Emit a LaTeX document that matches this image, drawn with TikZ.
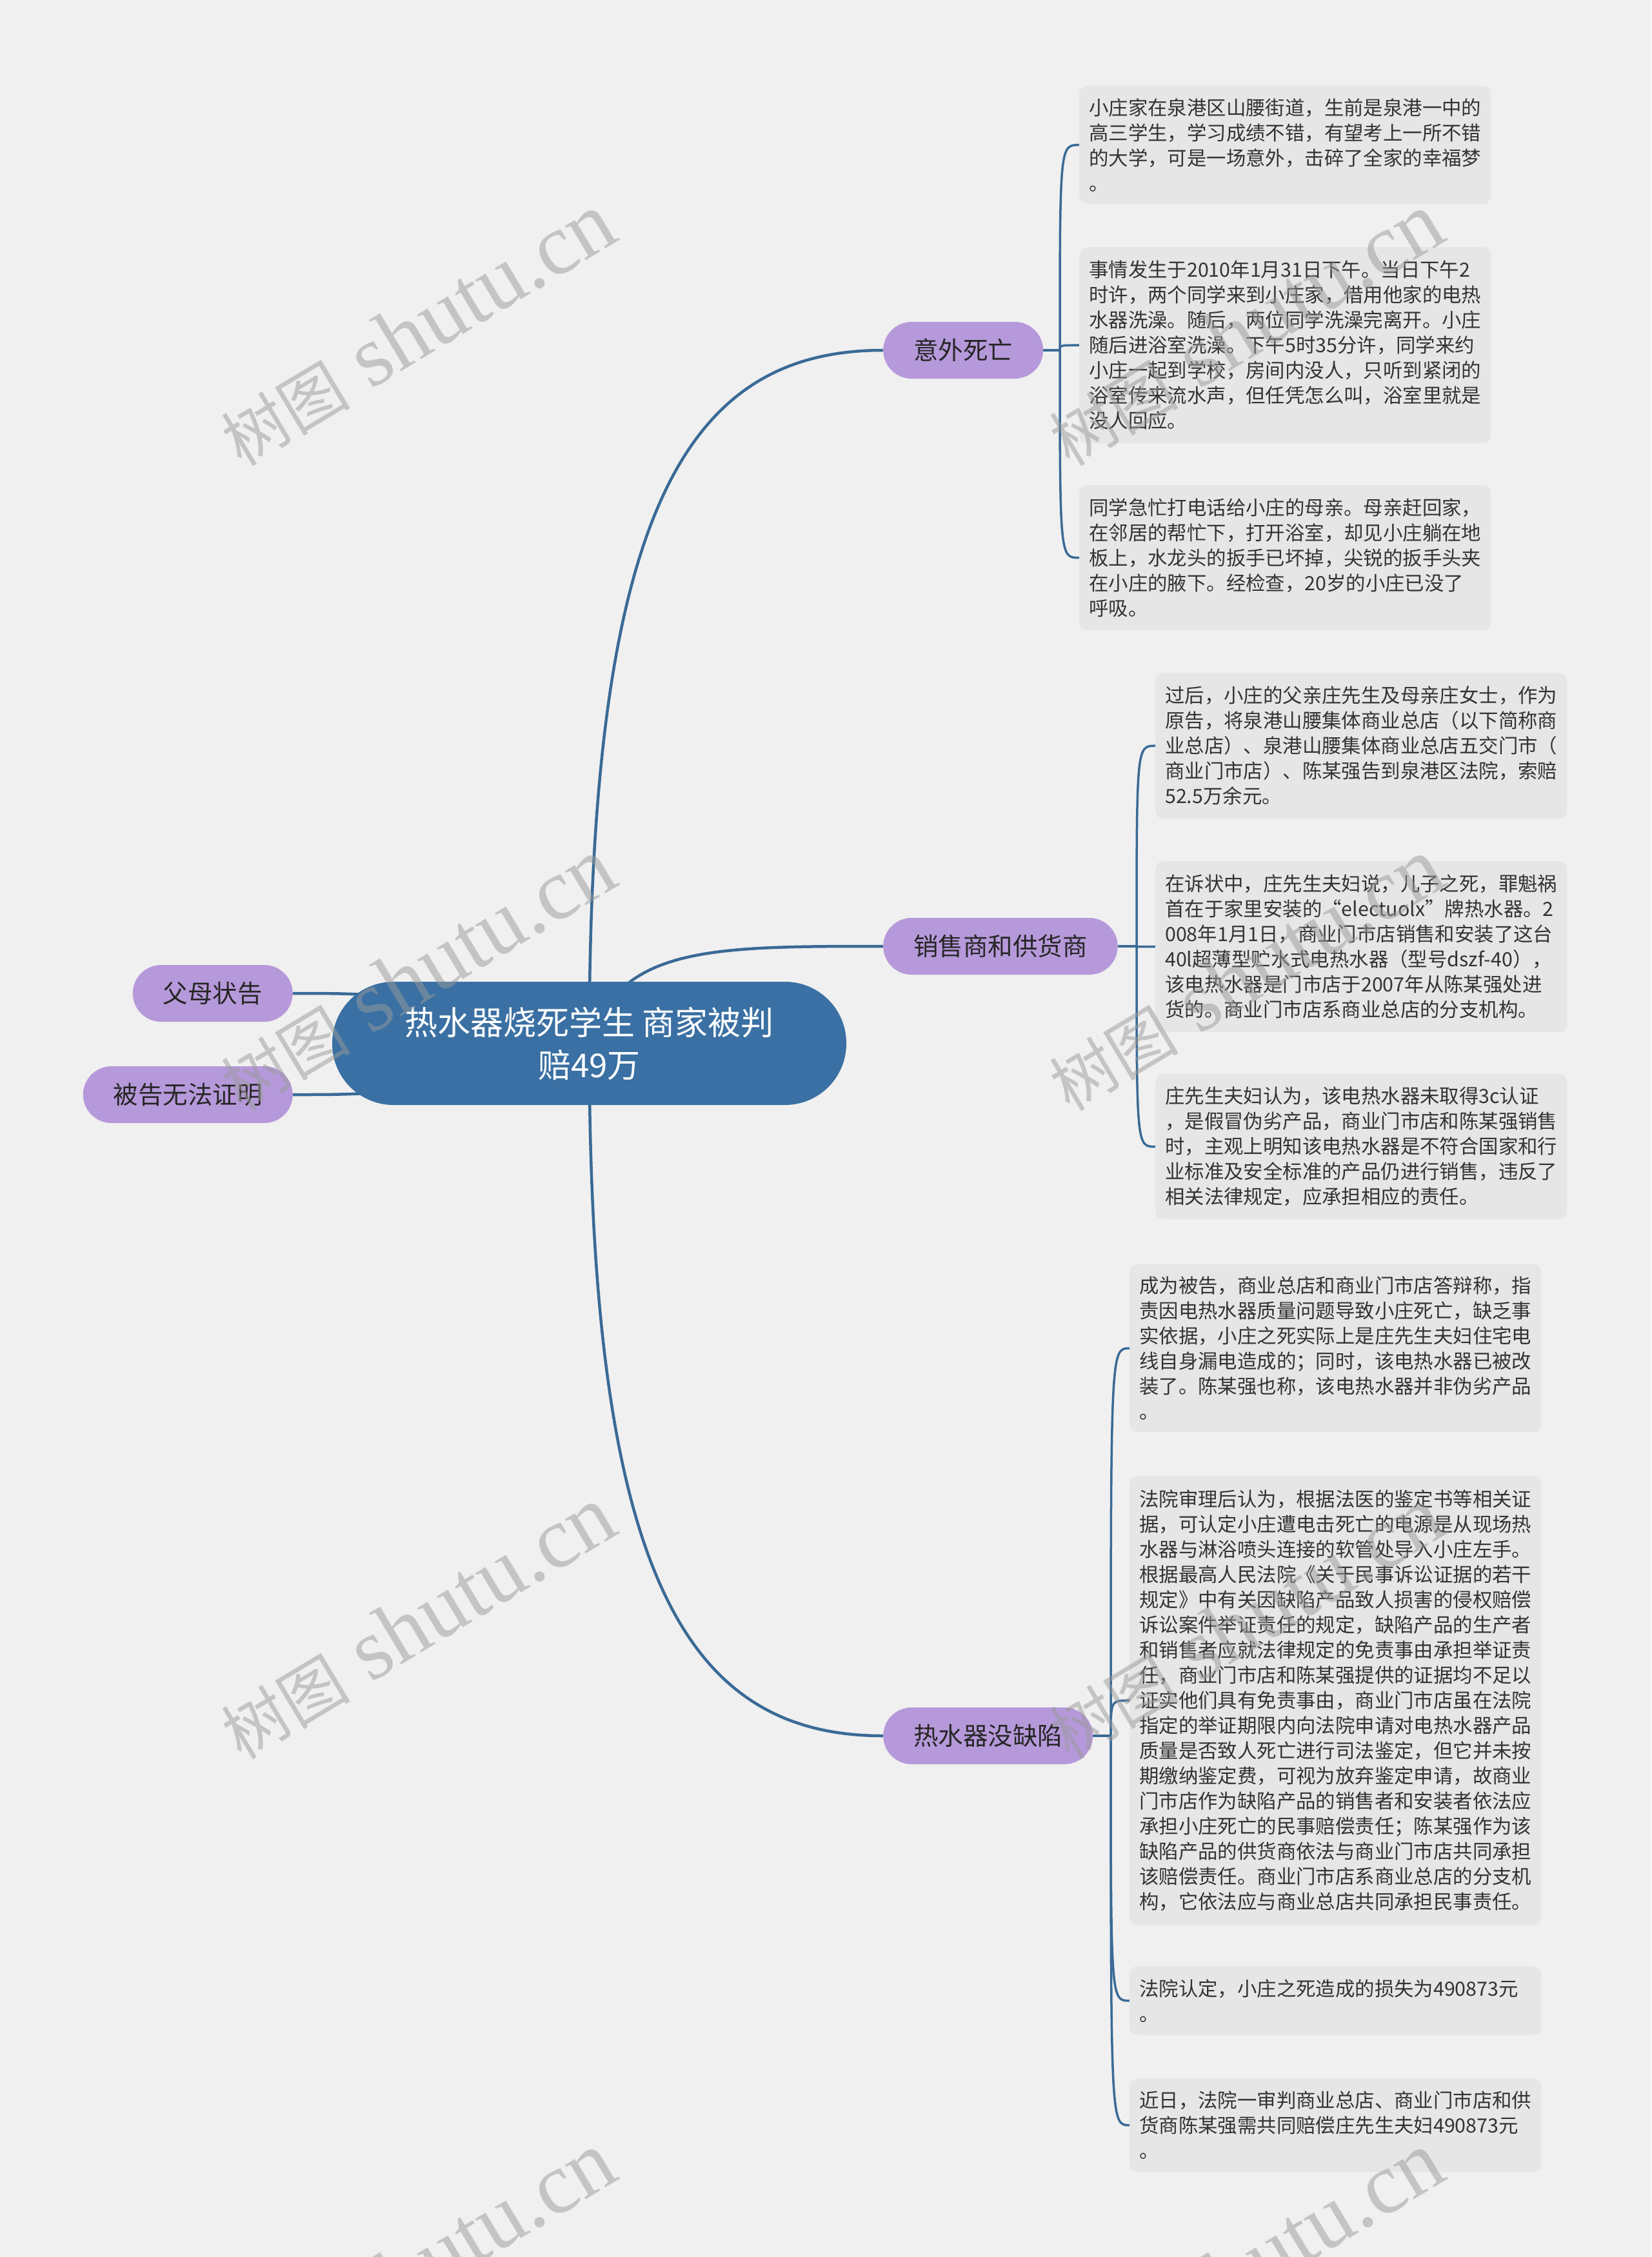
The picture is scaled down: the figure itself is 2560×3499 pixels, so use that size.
\documentclass[tikz,border=0pt]{standalone}
\usepackage{fontspec}
\setmainfont{Noto Sans CJK SC}
\newfontfamily\wmlatin{Liberation Serif}
\usetikzlibrary{backgrounds}
\pgfdeclarelayer{foreground}
\pgfsetlayers{background,main,foreground}
\definecolor{bgc}{HTML}{F0F0F0}
\definecolor{leaffill}{HTML}{E6E6E6}
\definecolor{centralfill}{HTML}{3A70A3}
\definecolor{branchfill}{HTML}{B699DA}
\definecolor{linkc}{HTML}{3A6A96}
\definecolor{leaftext}{HTML}{333333}
\definecolor{wmc}{HTML}{9A9A9A}
\newcommand{\wmtext}{{\fontsize{100}{110}\selectfont 树图}{\wmlatin\fontsize{135}{140}\selectfont\ shutu.cn}}
\tikzset{
  central/.style={fill=centralfill, draw=none, rounded corners=95pt, minimum width=797pt, minimum height=191pt, align=center, text=white, font=\fontsize{51}{66}\selectfont},
  branch/.style={fill=branchfill, draw=none, rounded corners=44pt, minimum height=88pt, inner xsep=47pt, inner ysep=0pt, text=black!85, font=\fontsize{38.5}{46}\selectfont},
  leaf/.style={fill=leaffill, draw=none, rounded corners=12pt, text width=608pt, inner xsep=15pt, inner ysep=0pt, align=left, anchor=north west, text=leaftext, font=\fontsize{30.4}{39}\selectfont},
  mainlink/.style={draw=linkc, line width=4.5pt},
  sublink/.style={draw=linkc, line width=3.5pt},
  wm/.style={text=wmc, opacity=0.5, rotate=31}
}
\begin{document}
\begin{tikzpicture}[x=1pt,y=-1pt]
\useasboundingbox (0,0) rectangle (2560,3499);
\begin{pgfonlayer}{background}
\fill[bgc] (0,0) rectangle (2560,3499);
\end{pgfonlayer}

% central and branches
\node[central] (c) at (913.5,1617.5) {热水器烧死学生 商家被判\\赔49万};
\node[branch, anchor=west] (b1) at (1369,543) {意外死亡};
\node[branch, anchor=west] (b2) at (1369,1467) {销售商和供货商};
\node[branch, anchor=west] (b3) at (1369,2691) {热水器没缺陷};
\node[branch, anchor=east] (l1) at (454,1540) {父母状告};
\node[branch, anchor=east] (l2) at (454,1697) {被告无法证明};

% leaves of branch 1
\node[leaf, minimum height=183pt] (a1) at (1673,133) {小庄家在泉港区山腰街道，生前是泉港一中的\\高三学生，学习成绩不错，有望考上一所不错\\的大学，可是一场意外，击碎了全家的幸福梦\\。};
\node[leaf, minimum height=304pt] (a2) at (1673,383) {事情发生于2010年1月31日下午。当日下午2\\时许，两个同学来到小庄家，借用他家的电热\\水器洗澡。随后，两位同学洗澡完离开。小庄\\随后进浴室洗澡。下午5时35分许，同学来约\\小庄一起到学校，房间内没人，只听到紧闭的\\浴室传来流水声，但任凭怎么叫，浴室里就是\\没人回应。};
\node[leaf, minimum height=225pt] (a3) at (1673,752) {同学急忙打电话给小庄的母亲。母亲赶回家，\\在邻居的帮忙下，打开浴室，却见小庄躺在地\\板上，水龙头的扳手已坏掉，尖锐的扳手头夹\\在小庄的腋下。经检查，20岁的小庄已没了\\呼吸。};

% leaves of branch 2
\node[leaf, minimum height=226pt] (s1) at (1791,1043) {过后，小庄的父亲庄先生及母亲庄女士，作为\\原告，将泉港山腰集体商业总店（以下简称商\\业总店）、泉港山腰集体商业总店五交门市（\\商业门市店）、陈某强告到泉港区法院，索赔\\52.5万余元。};
\node[leaf, minimum height=265pt] (s2) at (1791,1335) {在诉状中，庄先生夫妇说，儿子之死，罪魁祸\\首在于家里安装的“electuolx”牌热水器。2\\008年1月1日，商业门市店销售和安装了这台\\40l超薄型贮水式电热水器（型号dszf-40），\\该电热水器是门市店于2007年从陈某强处进\\货的。商业门市店系商业总店的分支机构。};
\node[leaf, minimum height=225pt] (s3) at (1791,1665) {庄先生夫妇认为，该电热水器未取得3c认证\\，是假冒伪劣产品，商业门市店和陈某强销售\\时，主观上明知该电热水器是不符合国家和行\\业标准及安全标准的产品仍进行销售，违反了\\相关法律规定，应承担相应的责任。};

% leaves of branch 3
\node[leaf, minimum height=260pt] (d1) at (1751,1960) {成为被告，商业总店和商业门市店答辩称，指\\责因电热水器质量问题导致小庄死亡，缺乏事\\实依据，小庄之死实际上是庄先生夫妇住宅电\\线自身漏电造成的；同时，该电热水器已被改\\装了。陈某强也称，该电热水器并非伪劣产品\\。};
\node[leaf, minimum height=696pt] (d2) at (1751,2288) {法院审理后认为，根据法医的鉴定书等相关证\\据，可认定小庄遭电击死亡的电源是从现场热\\水器与淋浴喷头连接的软管处导入小庄左手。\\根据最高人民法院《关于民事诉讼证据的若干\\规定》中有关因缺陷产品致人损害的侵权赔偿\\诉讼案件举证责任的规定，缺陷产品的生产者\\和销售者应就法律规定的免责事由承担举证责\\任，商业门市店和陈某强提供的证据均不足以\\证实他们具有免责事由，商业门市店虽在法院\\指定的举证期限内向法院申请对电热水器产品\\质量是否致人死亡进行司法鉴定，但它并未按\\期缴纳鉴定费，可视为放弃鉴定申请，故商业\\门市店作为缺陷产品的销售者和安装者依法应\\承担小庄死亡的民事赔偿责任；陈某强作为该\\缺陷产品的供货商依法与商业门市店共同承担\\该赔偿责任。商业门市店系商业总店的分支机\\构，它依法应与商业总店共同承担民事责任。};
\node[leaf, minimum height=107pt] (d3) at (1751,3048) {法院认定，小庄之死造成的损失为490873元\\。};
\node[leaf, minimum height=145pt] (d4) at (1751,3222) {近日，法院一审判商业总店、商业门市店和供\\货商陈某强需共同赔偿庄先生夫妇490873元\\。};

\coordinate (ka) at (1643,543);
\coordinate (kb) at (1762,1467);
\coordinate (kc) at (1722,2691);

\begin{pgfonlayer}{background}
% main connectors
\draw[mainlink] (c.center) .. controls (913.5,800) and (1060,543) .. (b1.west);
\draw[mainlink] (c.center) .. controls (960,1467) and (1100,1467) .. (b2.west);
\draw[mainlink] (c.center) .. controls (913.5,2435) and (1060,2691) .. (b3.west);
\draw[mainlink] (c.center) .. controls (650,1540) and (600,1540) .. (l1.east);
\draw[mainlink] (c.center) .. controls (650,1697) and (600,1697) .. (l2.east);
% sub connectors
\draw[sublink] (b1.east) -- (ka);
\foreach \n in {a1,a2,a3} \draw[sublink] (ka) .. controls (ka |- \n.west) .. (\n.west);
\draw[sublink] (b2.east) -- (kb);
\foreach \n in {s1,s2,s3} \draw[sublink] (kb) .. controls (kb |- \n.west) .. (\n.west);
\draw[sublink] (b3.east) -- (kc);
\foreach \n in {d1,d2,d3,d4} \draw[sublink] (kc) .. controls (kc |- \n.west) .. (\n.west);
\end{pgfonlayer}

% watermarks
\begin{pgfonlayer}{foreground}
\node[wm] (w1) at (647,511) {\wmtext};
\node[wm] (w2) at (647,1511) {\wmtext};
\node[wm] (w3) at (647,2516) {\wmtext};
\node[wm] (w4) at (647,3517) {\wmtext};
\node[wm] (w5) at (1931,511) {\wmtext};
\node[wm] (w6) at (1931,1511) {\wmtext};
\node[wm] (w7) at (1931,2516) {\wmtext};
\node[wm] (w8) at (1931,3517) {\wmtext};
\end{pgfonlayer}
\end{tikzpicture}
\end{document}
